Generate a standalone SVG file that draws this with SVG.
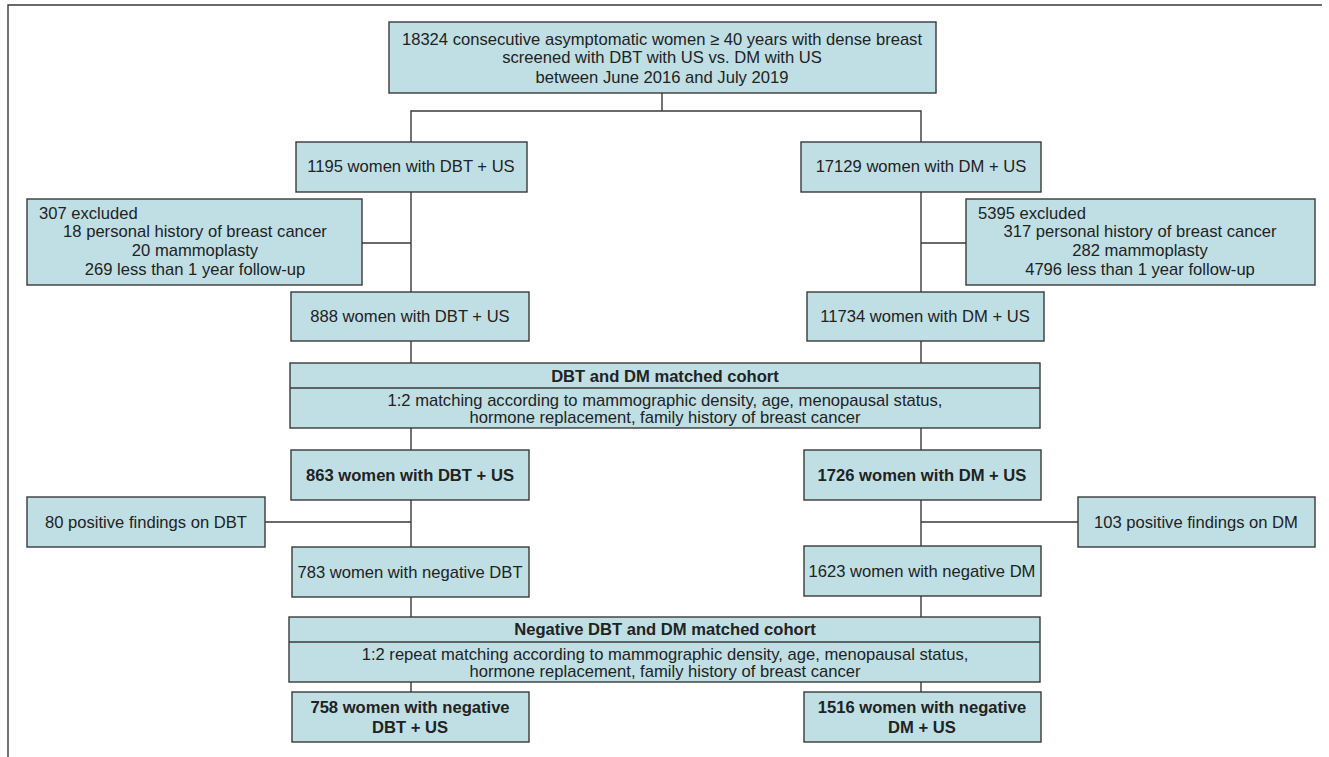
<svg xmlns="http://www.w3.org/2000/svg" width="1329" height="757" viewBox="0 0 1329 757">
<style>
.box{fill:#bfdfe5;stroke:#3a3a3a;stroke-width:1.4}
.ln{fill:none;stroke:#3a3a3a;stroke-width:1.4}
text{font-family:"Liberation Sans",Arial,sans-serif;font-size:16.6px;fill:#222}
.c{text-anchor:middle}
.b{font-weight:bold}
</style>
<rect width="1329" height="757" fill="#fff"/>
<g id="frame"><path class="ln" d="M8,757 V5 H1322"/></g>
<g id="connectors">
<path class="ln" d="M662,93 V111 M411,142 V111 H921 V142"/>
<path class="ln" d="M411,192 V292 M362,243 H411"/>
<path class="ln" d="M921,192 V292 M921,243 H966"/>
<path class="ln" d="M411,341 V363 M921,341 V363"/>
<path class="ln" d="M411,428 V450 M921,428 V450"/>
<path class="ln" d="M411,500 V547 M265,522 H411"/>
<path class="ln" d="M921,500 V546 M921,522 H1078"/>
<path class="ln" d="M411,597 V617 M921,596 V617"/>
<path class="ln" d="M411,682 V692 M921,682 V692"/>
</g>
<g id="n-top"><rect class="box" x="389" y="22" width="547" height="71"/>
<text class="c" x="662" y="45">18324 consecutive asymptomatic women ≥ 40 years with dense breast</text>
<text class="c" x="662" y="63">screened with DBT with US vs. DM with US</text>
<text class="c" x="662" y="83">between June 2016 and July 2019</text></g>
<g id="n-1195"><rect class="box" x="296" y="142" width="231" height="50"/><text class="c" x="411" y="172">1195 women with DBT + US</text></g>
<g id="n-17129"><rect class="box" x="801" y="142" width="240" height="50"/><text class="c" x="921" y="172">17129 women with DM + US</text></g>
<g id="n-excl-l"><rect class="box" x="27" y="199" width="335" height="86"/>
<text x="39" y="219">307 excluded</text>
<text class="c" x="195" y="237">18 personal history of breast cancer</text>
<text class="c" x="195" y="256">20 mammoplasty</text>
<text class="c" x="195" y="275">269 less than 1 year follow-up</text></g>
<g id="n-excl-r"><rect class="box" x="966" y="199" width="349" height="86"/>
<text x="978" y="219">5395 excluded</text>
<text class="c" x="1140" y="237">317 personal history of breast cancer</text>
<text class="c" x="1140" y="256">282 mammoplasty</text>
<text class="c" x="1140" y="275">4796 less than 1 year follow-up</text></g>
<g id="n-888"><rect class="box" x="291" y="292" width="238" height="49"/><text class="c" x="410" y="322">888 women with DBT + US</text></g>
<g id="n-11734"><rect class="box" x="807" y="292" width="237" height="49"/><text class="c" x="925" y="322">11734 women with DM + US</text></g>
<g id="n-cohort1"><rect class="box" x="290" y="363" width="750" height="65"/><path class="ln" d="M290,388 H1040"/>
<text class="c b" x="665" y="382">DBT and DM matched cohort</text>
<text class="c" x="665" y="406">1:2 matching according to mammographic density, age, menopausal status,</text>
<text class="c" x="665" y="423">hormone replacement, family history of breast cancer</text></g>
<g id="n-863"><rect class="box" x="291" y="450" width="238" height="50"/><text class="c b" x="410" y="481">863 women with DBT + US</text></g>
<g id="n-1726"><rect class="box" x="804" y="450" width="237" height="50"/><text class="c b" x="922" y="481">1726 women with DM + US</text></g>
<g id="n-80"><rect class="box" x="27" y="497" width="238" height="50"/><text class="c" x="146" y="528">80 positive findings on DBT</text></g>
<g id="n-103"><rect class="box" x="1078" y="497" width="237" height="50"/><text class="c" x="1196" y="528">103 positive findings on DM</text></g>
<g id="n-783"><rect class="box" x="292" y="547" width="237" height="50"/><text class="c" x="410" y="578">783 women with negative DBT</text></g>
<g id="n-1623"><rect class="box" x="804" y="546" width="237" height="50"/><text class="c" x="922" y="577">1623 women with negative DM</text></g>
<g id="n-cohort2"><rect class="box" x="289" y="617" width="751" height="65"/><path class="ln" d="M289,642 H1040"/>
<text class="c b" x="665" y="635">Negative DBT and DM matched cohort</text>
<text class="c" x="665" y="660">1:2 repeat matching according to mammographic density, age, menopausal status,</text>
<text class="c" x="665" y="677">hormone replacement, family history of breast cancer</text></g>
<g id="n-758"><rect class="box" x="292" y="692" width="237" height="50"/>
<text class="c b" x="410" y="713">758 women with negative</text>
<text class="c b" x="410" y="733">DBT + US</text></g>
<g id="n-1516"><rect class="box" x="804" y="692" width="237" height="50"/>
<text class="c b" x="922" y="713">1516 women with negative</text>
<text class="c b" x="922" y="733">DM + US</text></g>
</svg>
